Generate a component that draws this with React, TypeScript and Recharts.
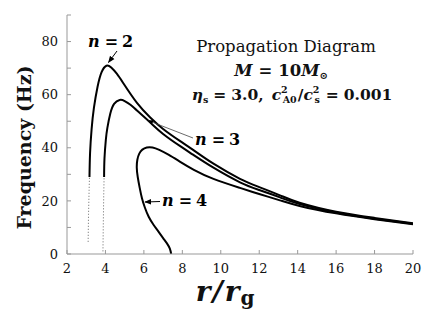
import React from 'react';
import { LineChart, Line, XAxis, YAxis } from 'recharts';

// ---- data (r/rg, frequency Hz) ----
const n2Solid = [
  { x: 3.17, f: 29 }, { x: 3.2, f: 38 }, { x: 3.28, f: 47 }, { x: 3.4, f: 55 },
  { x: 3.59, f: 63 }, { x: 3.8, f: 68.5 }, { x: 4.05, f: 70.9 }, { x: 4.3, f: 70.2 },
  { x: 4.6, f: 67.8 }, { x: 4.94, f: 64.2 }, { x: 5.64, f: 56.9 }, { x: 6.33, f: 51.4 },
  { x: 7.0, f: 47.1 }, { x: 7.89, f: 42.5 }, { x: 8.58, f: 39.1 }, { x: 9.62, f: 34.0 },
  { x: 11.0, f: 28.3 }, { x: 12.0, f: 25.2 }, { x: 13.08, f: 22.1 }, { x: 14.1, f: 19.3 },
  { x: 16, f: 15.9 }, { x: 18, f: 13.6 }, { x: 20, f: 11.6 },
];
const n2Dotted = [
  { x: 3.1, f: 4.6 }, { x: 3.12, f: 15 }, { x: 3.15, f: 24 }, { x: 3.17, f: 29 },
];
const n3Solid = [
  { x: 3.93, f: 29 }, { x: 3.95, f: 36 }, { x: 4.02, f: 43 }, { x: 4.1, f: 47.5 },
  { x: 4.25, f: 52.8 }, { x: 4.45, f: 56.5 }, { x: 4.74, f: 58.0 }, { x: 5.0, f: 57.6 },
  { x: 5.3, f: 56.2 }, { x: 5.64, f: 54.0 }, { x: 6.33, f: 49.5 }, { x: 7.0, f: 45.2 },
  { x: 7.89, f: 40.6 }, { x: 8.58, f: 37.3 }, { x: 9.62, f: 32.5 }, { x: 11.0, f: 27.0 },
  { x: 12.0, f: 24.1 }, { x: 13.08, f: 21.3 }, { x: 14.1, f: 18.8 }, { x: 16, f: 15.6 },
  { x: 18, f: 13.3 }, { x: 20, f: 11.4 },
];
const n3Dotted = [
  { x: 3.87, f: 1.0 }, { x: 3.89, f: 12 }, { x: 3.91, f: 22 }, { x: 3.93, f: 29 },
];
const n4Curve = [
  { x: 7.42, f: 0 }, { x: 7.35, f: 2 }, { x: 7.2, f: 4 }, { x: 7.0, f: 6 },
  { x: 6.75, f: 8.5 }, { x: 6.5, f: 11 }, { x: 6.25, f: 14 }, { x: 6.05, f: 17.5 },
  { x: 5.9, f: 21 }, { x: 5.78, f: 25 }, { x: 5.68, f: 29 }, { x: 5.63, f: 32.5 },
  { x: 5.66, f: 35.5 }, { x: 5.76, f: 37.8 }, { x: 5.92, f: 39.3 }, { x: 6.15, f: 40.1 },
  { x: 6.45, f: 40.1 }, { x: 6.8, f: 39.2 }, { x: 7.3, f: 37.3 }, { x: 7.89, f: 34.7 },
  { x: 8.6, f: 31.7 }, { x: 9.62, f: 28.3 }, { x: 11.0, f: 24.9 }, { x: 12.0, f: 22.6 },
  { x: 13.08, f: 20.2 }, { x: 14.1, f: 18.1 }, { x: 16, f: 15.3 }, { x: 18, f: 13.1 },
  { x: 20, f: 11.2 },
];
const xTicks = [2, 4, 6, 8, 10, 12, 14, 16, 18, 20];
const yTicks = [0, 10, 20, 30, 40, 50, 60, 70, 80, 90];
const yLabelled = [0, 20, 40, 60, 80];

const TICK_COLOR = '#999';
const TICK_LEN = 4;
const SERIF = "'DejaVu Serif', serif";

const BottomTick = (props: any) => {
  const { x, y, payload } = props;
  const axisY = y - 10;
  return (
    <g>
      <line x1={x} y1={axisY} x2={x} y2={axisY - TICK_LEN} stroke={TICK_COLOR} />
      <text x={x} y={y} dy="0.71em" textAnchor="middle" fontSize={13} fontFamily={SERIF} fill="#111">
        {payload.value}
      </text>
    </g>
  );
};
const LeftTick = (props: any) => {
  const { x, y, payload } = props;
  const axisX = x + 9;
  return (
    <g>
      <line x1={axisX} y1={y} x2={axisX + TICK_LEN} y2={y} stroke={TICK_COLOR} />
      {yLabelled.includes(payload.value) && (
        <text x={x} y={y} dy="0.355em" textAnchor="end" fontSize={13} fontFamily={SERIF} fill="#111">
          {payload.value}
        </text>
      )}
    </g>
  );
};
const TopTick = (props: any) => {
  const { x, y } = props;
  return <line x1={x} y1={y} x2={x} y2={y + TICK_LEN} stroke={TICK_COLOR} />;
};
const RightTick = (props: any) => {
  const { x, y } = props;
  return <line x1={x} y1={y} x2={x - TICK_LEN} y2={y} stroke={TICK_COLOR} />;
};

const NLabel = ({ x, y, n }: { x: number; y: number; n: string }) => (
  <text x={x} y={y} fontSize={16} fontWeight="bold" fontFamily={SERIF} fill="#000">
    <tspan fontStyle="italic">n</tspan>
    <tspan dx={5}>=</tspan>
    <tspan dx={4}>{n}</tspan>
  </text>
);

export default function App() {
  return (
    <div style={{ position: 'absolute', left: 0, top: 0, width: 436, height: 315, background: '#fff' }}>
      <LineChart width={436} height={315} margin={{ top: 15, right: 23, bottom: 0, left: 0 }}>
        <XAxis
          dataKey="x"
          type="number"
          domain={[2, 20]}
          ticks={xTicks}
          allowDataOverflow
          height={61}
          tickSize={0}
          tickMargin={10}
          axisLine={{ stroke: TICK_COLOR }}
          tickLine={false}
          tick={<BottomTick />}
          interval={0}
        />
        <XAxis
          xAxisId="t"
          orientation="top"
          type="number"
          domain={[2, 20]}
          ticks={xTicks}
          height={0}
          tickSize={0}
          tickMargin={0}
          axisLine={{ stroke: TICK_COLOR }}
          tickLine={false}
          tick={<TopTick />}
          interval={0}
        />
        <YAxis
          type="number"
          domain={[0, 90]}
          ticks={yTicks}
          allowDataOverflow
          width={67}
          tickSize={0}
          tickMargin={9}
          axisLine={{ stroke: TICK_COLOR }}
          tickLine={false}
          tick={<LeftTick />}
          interval={0}
        />
        <YAxis
          yAxisId="r"
          orientation="right"
          type="number"
          domain={[0, 90]}
          ticks={yTicks}
          width={0}
          tickSize={0}
          tickMargin={0}
          axisLine={{ stroke: '#000' }}
          tickLine={false}
          tick={<RightTick />}
          interval={0}
        />
        <Line data={n2Dotted} dataKey="f" type="linear" stroke="#666" strokeWidth={1} strokeDasharray="1 2" dot={false} isAnimationActive={false} />
        <Line data={n3Dotted} dataKey="f" type="linear" stroke="#666" strokeWidth={1} strokeDasharray="1 2" dot={false} isAnimationActive={false} />
        <Line data={n2Solid} dataKey="f" type="natural" stroke="#000" strokeWidth={2} dot={false} isAnimationActive={false} />
        <Line data={n3Solid} dataKey="f" type="natural" stroke="#000" strokeWidth={2} dot={false} isAnimationActive={false} />
        <Line data={n4Curve} dataKey="f" type="natural" stroke="#000" strokeWidth={2} dot={false} isAnimationActive={false} />
      </LineChart>
      <svg width={436} height={315} style={{ position: 'absolute', left: 0, top: 0, pointerEvents: 'none' }}>
        <defs>
          <marker id="ah" viewBox="0 0 10 10" refX="9" refY="5" markerWidth="7" markerHeight="7" orient="auto">
            <path d="M0,1 L10,5 L0,9 z" fill="#000" />
          </marker>
        </defs>
        {/* title block */}
        <text x={286} y={52} textAnchor="middle" fontSize={16.5} fontFamily={SERIF} fill="#111">
          Propagation Diagram
        </text>
        <text x={281} y={76} textAnchor="middle" fontSize={16.5} fontWeight="bold" fontFamily={SERIF} fill="#111">
          <tspan fontStyle="italic">M</tspan>
          <tspan dx={6}>=</tspan>
          <tspan dx={6}>10</tspan>
          <tspan fontStyle="italic">M</tspan>
          <tspan fontSize={10} dy={3}>⊙</tspan>
        </text>
        <text x={292} y={100} textAnchor="middle" fontSize={15.5} fontWeight="bold" fontFamily={SERIF} fill="#111">
          <tspan fontStyle="italic">η</tspan>
          <tspan fontSize={9.5} dy={3}>s</tspan>
          <tspan dy={-3} dx={5}>=</tspan>
          <tspan dx={5}>3.0,</tspan>
          <tspan dx={8} fontStyle="italic">c</tspan>
          <tspan fontSize={9.5} dy={-7}>2</tspan>
          <tspan fontSize={9.5} dx={-5} dy={10}>A0</tspan>
          <tspan dy={-3} dx={1}>/</tspan>
          <tspan fontStyle="italic">c</tspan>
          <tspan fontSize={9.5} dy={-7}>2</tspan>
          <tspan fontSize={9.5} dx={-5} dy={10}>s</tspan>
          <tspan dy={-3} dx={6}>=</tspan>
          <tspan dx={5}>0.001</tspan>
        </text>
        {/* curve labels and arrows */}
        <NLabel x={88} y={47} n="2" />
        <line x1={117} y1={51} x2={108.5} y2={62.5} stroke="#000" strokeWidth={1} markerEnd="url(#ah)" />
        <NLabel x={195} y={145} n="3" />
        <line x1={193} y1={138} x2={148} y2={120.5} stroke="#444" strokeWidth={0.8} markerEnd="url(#ah)" />
        <NLabel x={162} y={206} n="4" />
        <line x1={160} y1={201.5} x2={145} y2={202} stroke="#000" strokeWidth={1} markerEnd="url(#ah)" />
        {/* axis titles */}
        <text
          transform="translate(30.5,147.5) rotate(-90)"
          textAnchor="middle"
          fontSize={19}
          fontWeight="bold"
          fontFamily={SERIF}
          fill="#111"
        >
          Frequency (Hz)
        </text>
        <text x={225} y={301} textAnchor="middle" fontSize={28} fontWeight="bold" fontFamily={SERIF} fill="#111">
          <tspan fontStyle="italic">r</tspan>
          <tspan fontStyle="italic" dx={2}>/</tspan>
          <tspan fontStyle="italic" dx={2}>r</tspan>
          <tspan fontSize={20} dx={1} dy={4}>g</tspan>
        </text>
      </svg>
    </div>
  );
}
